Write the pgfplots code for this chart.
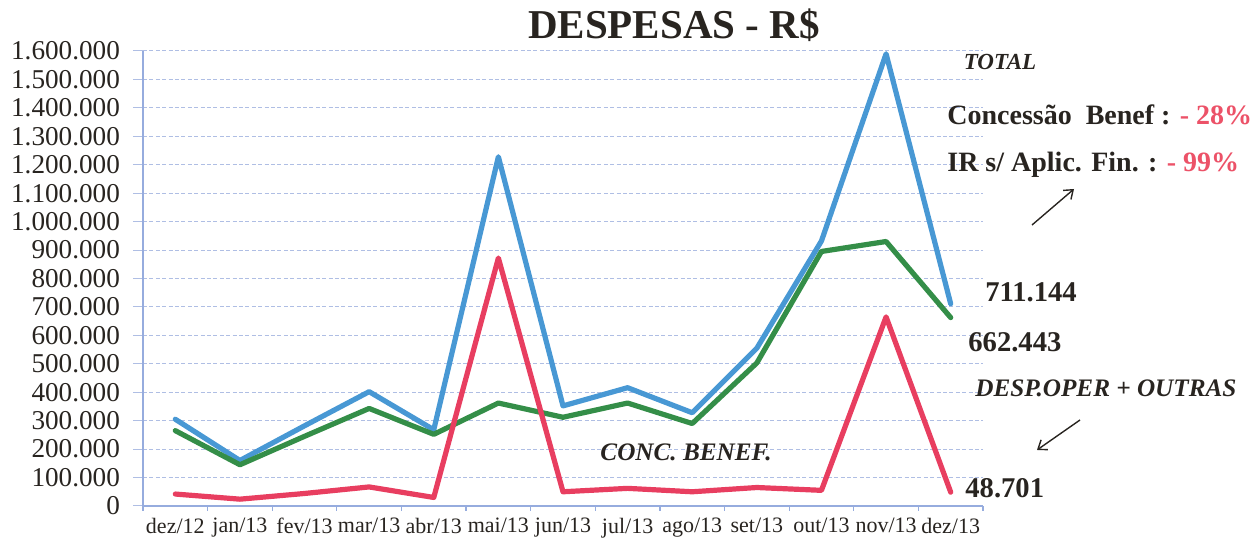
\documentclass[border=0pt]{standalone}
\usepackage{pgfplots}
\pgfplotsset{compat=1.18}
\usetikzlibrary{arrows.meta}
\usepackage{fontspec}
\setmainfont{Liberation Serif}
\definecolor{cblue}{RGB}{72,152,212}
\definecolor{cgreen}{RGB}{52,142,72}
\definecolor{cred}{RGB}{232,62,96}
\definecolor{gridblue}{RGB}{175,190,228}
\definecolor{axblue}{RGB}{150,172,222}
\definecolor{txt}{RGB}{40,36,32}
\definecolor{pct}{RGB}{236,82,104}
\begin{document}
\begin{tikzpicture}
\path[use as bounding box] (-71.5pt,-19pt) rectangle (555.5pt,253pt);
\begin{axis}[
  scale only axis, width=420pt, height=227.5pt,
  xmin=-0.5, xmax=12.5, ymin=0, ymax=1600000,
  axis x line*=bottom, axis y line*=left,
  axis line style={color=axblue, line width=0.6pt},
  xtick={0,...,12},
  xticklabels={dez/12,jan/13,fev/13,mar/13,abr/13,mai/13,jun/13,jul/13,ago/13,set/13,out/13,nov/13,dez/13},
  major x tick style={draw=none},
  minor xtick={-0.5,0.5,...,12.5},
  minor x tick style={color=axblue, line width=0.6pt},
  minor tick length=2.5pt,
  tick align=outside,
  ytick={0,100000,...,1600000},
  major y tick style={color=gridblue, line width=0.5pt},
  major tick length=5pt,
  ymajorgrids,
  grid style={dash pattern=on 2pt off 1.2pt, color=gridblue, line width=0.5pt},
  scaled y ticks=false,
  yticklabel style={font=\fontsize{13.6}{15}\selectfont, text=txt, xshift=-3pt, /pgf/number format/.cd, fixed, 1000 sep={.}, assume math mode=true},
  xticklabel style={font=\fontsize{11}{12}\selectfont, text=txt, inner sep=1pt},
  every axis plot/.append style={line width=2.6pt, line join=round, line cap=round, mark=none},
  clip=false,
]
\addplot[cblue] coordinates {(0,305000)(1,160000)(2,282000)(3,402000)(4,268000)(5,1228000)(6,352000)(7,416000)(8,328000)(9,555000)(10,932000)(11,1590000)(12,711144)};
\addplot[cgreen] coordinates {(0,265000)(1,145000)(2,245000)(3,343000)(4,252000)(5,362000)(6,312000)(7,362000)(8,290000)(9,503000)(10,895000)(11,930000)(12,662443)};
\addplot[cred] coordinates {(0,42000)(1,24000)(2,44000)(3,67000)(4,30000)(5,872000)(6,50000)(7,62000)(8,50000)(9,65000)(10,55000)(11,665000)(12,48701)};
\end{axis}
\node[font=\bfseries\fontsize{20.5}{22}\selectfont, text=txt] at (265.5pt,240.5pt) {DESPESAS - R\$};
\node[font=\bfseries\itshape\fontsize{11.5}{13}\selectfont, text=txt] at (428.5pt,222pt) {TOTAL};
\node[font=\bfseries\fontsize{14}{16}\selectfont, text=txt, anchor=west, inner sep=0pt] at (402pt,195.5pt) {Concessão\ \ Benef : \textcolor{pct}{- 28\%}};
\node[font=\bfseries\fontsize{14}{16}\selectfont, text=txt, anchor=west, inner sep=0pt] at (402pt,170.5pt) {IR s/ Aplic. Fin. : \textcolor{pct}{- 99\%}};
\draw[-{Straight Barb[length=4pt,width=6pt]}, txt, line width=0.7pt] (444.5pt,140.5pt) -- (465.5pt,158.5pt);
\node[font=\bfseries\fontsize{14.3}{16}\selectfont, text=txt, anchor=west, inner sep=0pt] at (421pt,107pt) {711.144};
\node[font=\bfseries\fontsize{14.3}{16}\selectfont, text=txt, anchor=west, inner sep=0pt] at (412.5pt,82pt) {662.443};
\node[font=\bfseries\itshape\fontsize{12.6}{14}\selectfont, text=txt, anchor=west, inner sep=0pt] at (416pt,59pt) {DESP.OPER + OUTRAS};
\draw[-{Straight Barb[length=4pt,width=6pt]}, txt, line width=0.7pt] (468.5pt,43pt) -- (447pt,28pt);
\node[font=\bfseries\fontsize{14.3}{16}\selectfont, text=txt, anchor=west, inner sep=0pt] at (411pt,9pt) {48.701};
\node[font=\bfseries\itshape\fontsize{12.6}{14}\selectfont, text=txt] at (271.5pt,27pt) {CONC. BENEF.};
\end{tikzpicture}
\end{document}
